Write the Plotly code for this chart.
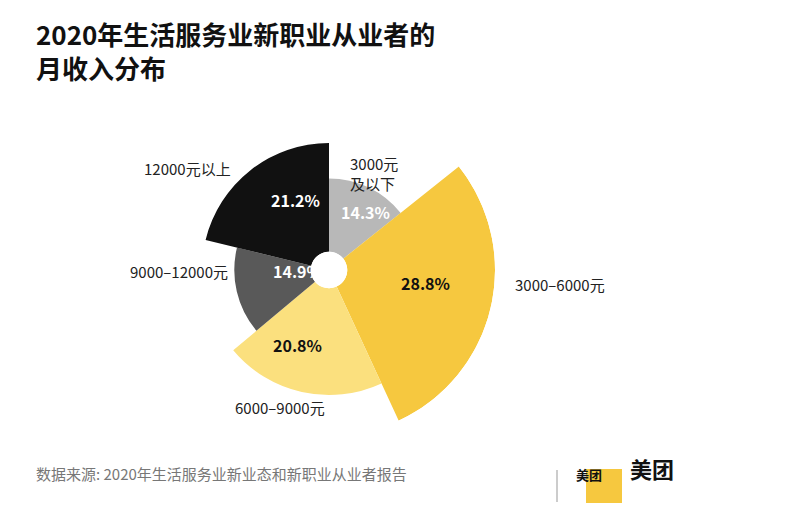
import plotly.graph_objects as go

labels = ["3000元<br>及以下", "3000–6000元", "6000–9000元", "9000–12000元", "12000元以上"]
shares = [14.3, 28.8, 20.8, 14.9, 21.2]
colors = ["#b8b8b8", "#f6c83f", "#fbe07e", "#595959", "#111111"]
text_colors = ["white", "#111111", "#111111", "white", "white"]

widths = [s * 3.6 for s in shares]
thetas = []
start = 0
for w in widths:
    thetas.append(start + w / 2)
    start += w

fig = go.Figure(go.Barpolar(
    r=shares, theta=thetas, width=widths,
    marker=dict(color=colors, line=dict(width=0)),
    hoverinfo="skip",
))

cx, cy, rad = 321, 262, 166
fig.update_layout(
    width=800, height=511,
    margin=dict(l=0, r=0, t=0, b=0),
    paper_bgcolor="white",
    showlegend=False,
    font=dict(family="Noto Sans CJK SC"),
    polar=dict(
        domain=dict(x=[(cx - rad) / 800, (cx + rad) / 800],
                    y=[1 - (cy + rad) / 511, 1 - (cy - rad) / 511]),
        bgcolor="rgba(0,0,0,0)",
        hole=0.11,
        angularaxis=dict(rotation=90, direction="clockwise", visible=False),
        radialaxis=dict(range=[0, 28.8], visible=False),
    ),
)

def px(x, y):
    return x / 800, 1 - y / 511

fig.add_annotation(x=0.032, y=0.99, xref="paper", yref="paper", xanchor="left", yanchor="top",
                   align="left", showarrow=False,
                   text="<b>2020年生活服务业新职业从业者的<br>月收入分布</b>",
                   font=dict(size=26, color="#111"))

# value labels inside slices (pixel positions)
inner_pos = [(357, 204), (417, 275), (289, 351), (263, 263), (261, 192)]
for (x, y), s, tc in zip(inner_pos, shares, text_colors):
    ax, ay = px(x, y)
    fig.add_annotation(x=ax, y=ay, xref="paper", yref="paper", showarrow=False,
                       text=f"<b>{s}%</b>", font=dict(size=16, color=tc))

outer_pos = [(340, 143, "left"), (505, 276, "left"), (225, 412, "left"), (222, 263, "right"), (225, 148, "right")]
for (x, y, anc), lab in zip(outer_pos, labels):
    ax, ay = px(x, y)
    fig.add_annotation(x=ax, y=ay, xref="paper", yref="paper", showarrow=False,
                       xanchor=anc, align="left", text=lab, font=dict(size=15, color="#222"))

fig.add_annotation(x=0.032, y=1 - 478 / 511, xref="paper", yref="paper", xanchor="left", showarrow=False,
                   text="数据来源: 2020年生活服务业新业态和新职业从业者报告",
                   font=dict(size=15, color="#777"))
fig.add_shape(type="line", xref="paper", yref="paper", x0=549 / 800, x1=549 / 800,
              y0=1 - 462 / 511, y1=1 - 494 / 511, line=dict(color="#999", width=1))
fig.add_shape(type="rect", xref="paper", yref="paper", x0=578 / 800, x1=614 / 800,
              y0=1 - 461 / 511, y1=1 - 495 / 511, fillcolor="#f6c83f", line=dict(width=0))
fig.add_annotation(x=596 / 800, y=1 - 478 / 511, xref="paper", yref="paper", showarrow=False,
                   text="<b>美团</b>", font=dict(size=13, color="#111"))
fig.add_annotation(x=620 / 800, y=1 - 478 / 511, xref="paper", yref="paper", xanchor="left", showarrow=False,
                   text="<b>美团</b>", font=dict(size=22, color="#111"))

fig.write_html("out.html")
